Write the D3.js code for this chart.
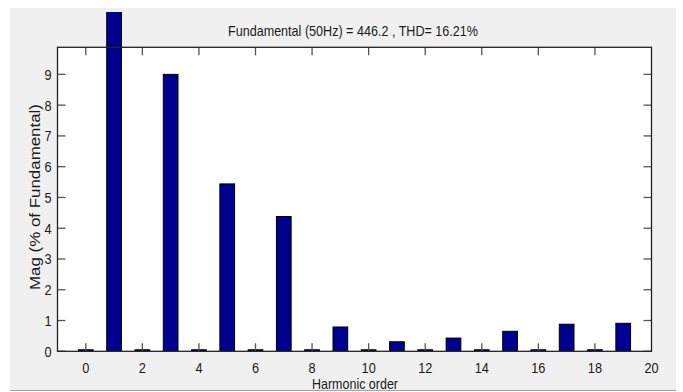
<!DOCTYPE html>
<html>
<head>
<meta charset="utf-8">
<script src="https://cdn.jsdelivr.net/npm/d3@7"></script>
<style>
  html, body { margin: 0; padding: 0; background: #ffffff; }
  svg { display: block; }
  text { font-family: "Liberation Sans", Arial, sans-serif; fill: #1a1a1a; }
</style>
</head>
<body>
<svg id="chart" width="683" height="392"></svg>
<script>
// Harmonic spectrum (magnitude as % of the fundamental)
const harmonicOrders = [0, 1, 2, 3, 4, 5, 6, 7, 8, 9, 10, 11, 12, 13, 14, 15, 16, 17, 18, 19];
const magnitudes     = [0.05, 100, 0.05, 9.0, 0.05, 5.44, 0.05, 4.38, 0.05, 0.79, 0.05, 0.31, 0.05, 0.43, 0.05, 0.65, 0.05, 0.88, 0.05, 0.91];
const xTickValues = [0, 2, 4, 6, 8, 10, 12, 14, 16, 18, 20];
const yTickValues = [0, 1, 2, 3, 4, 5, 6, 7, 8, 9];
const titleText = "Fundamental (50Hz) = 446.2 , THD= 16.21%";
const xLabelText = "Harmonic order";
const yLabelText = "Mag (% of Fundamental)";

const svg = d3.select("#chart");

// Figure panel
svg.append("rect").attr("x", 10).attr("y", 8).attr("width", 666).attr("height", 382)
  .attr("fill", "#f0f0f0");

const plot = { left: 57.5, right: 651.5, top: 47.3, bottom: 351.3 };

const x = d3.scaleLinear().domain([-1, 20]).range([plot.left, plot.right]);
const y = d3.scaleLinear().domain([0, 9.88]).range([plot.bottom, plot.top]);

// Axes background
svg.append("rect")
  .attr("x", plot.left).attr("y", plot.top)
  .attr("width", plot.right - plot.left).attr("height", plot.bottom - plot.top)
  .attr("fill", "#ffffff");

// Bars may rise above the axes, up to the top of the panel
svg.append("clipPath").attr("id", "barClip")
  .append("rect").attr("x", 10).attr("y", 12).attr("width", 666).attr("height", plot.bottom - 12);

const barW = x(0.52) - x(0);
svg.append("g").attr("clip-path", "url(#barClip)")
  .selectAll("rect.bar")
  .data(harmonicOrders.map((h, i) => ({ h, v: magnitudes[i] })))
  .join("rect")
  .attr("class", "bar")
  .attr("x", d => x(d.h) - barW / 2)
  .attr("y", d => y(d.v))
  .attr("width", barW)
  .attr("height", d => y(0) - y(d.v))
  .attr("fill", "#000090")
  .attr("stroke", "#000000")
  .attr("stroke-width", 1);

// Inward tick marks on all four sides
const tickLen = 8;
const xTickStep = xTickValues.filter(v => v < 20);
const ticks = svg.append("g").attr("stroke", "#555").attr("stroke-width", 1.3);
xTickStep.forEach(v => {
  ticks.append("line").attr("x1", x(v)).attr("x2", x(v)).attr("y1", plot.bottom).attr("y2", plot.bottom - tickLen);
  ticks.append("line").attr("x1", x(v)).attr("x2", x(v)).attr("y1", plot.top).attr("y2", plot.top + tickLen);
});
yTickValues.forEach(v => {
  ticks.append("line").attr("y1", y(v)).attr("y2", y(v)).attr("x1", plot.left).attr("x2", plot.left + tickLen);
  ticks.append("line").attr("y1", y(v)).attr("y2", y(v)).attr("x1", plot.right).attr("x2", plot.right - tickLen);
});

// Axes box
svg.append("rect")
  .attr("x", plot.left).attr("y", plot.top)
  .attr("width", plot.right - plot.left).attr("height", plot.bottom - plot.top)
  .attr("fill", "none").attr("stroke", "#222").attr("stroke-width", 1.3);

// Tick labels, slightly condensed
svg.append("g").selectAll("text").data(xTickValues).join("text")
  .attr("transform", d => `translate(${x(d)},${plot.bottom + 22}) scale(0.85,1)`)
  .attr("text-anchor", "middle").attr("font-size", 15)
  .text(d => d);

svg.append("g").selectAll("text").data(yTickValues).join("text")
  .attr("transform", d => `translate(${plot.left - 6},${y(d) + 5.5}) scale(0.85,1)`)
  .attr("text-anchor", "end").attr("font-size", 15)
  .text(d => d);

// Title
svg.append("text").attr("x", 353).attr("y", 36)
  .attr("text-anchor", "middle").attr("font-size", 15)
  .attr("textLength", 250).attr("lengthAdjust", "spacingAndGlyphs")
  .text(titleText);

// Axis labels
svg.append("text").attr("x", 355).attr("y", 389)
  .attr("text-anchor", "middle").attr("font-size", 15)
  .attr("textLength", 86).attr("lengthAdjust", "spacingAndGlyphs")
  .text(xLabelText);

svg.append("text")
  .attr("transform", "translate(40,197) rotate(-90)")
  .attr("text-anchor", "middle").attr("font-size", 15)
  .attr("textLength", 186).attr("lengthAdjust", "spacingAndGlyphs")
  .text(yLabelText);

// Lower edge of the panel
svg.append("line").attr("x1", 10).attr("x2", 676).attr("y1", 390.5).attr("y2", 390.5)
  .attr("stroke", "#a0a0a0").attr("stroke-width", 1);
svg.append("rect").attr("x", 0).attr("y", 391).attr("width", 683).attr("height", 1).attr("fill", "#ffffff");
</script>
</body>
</html>
